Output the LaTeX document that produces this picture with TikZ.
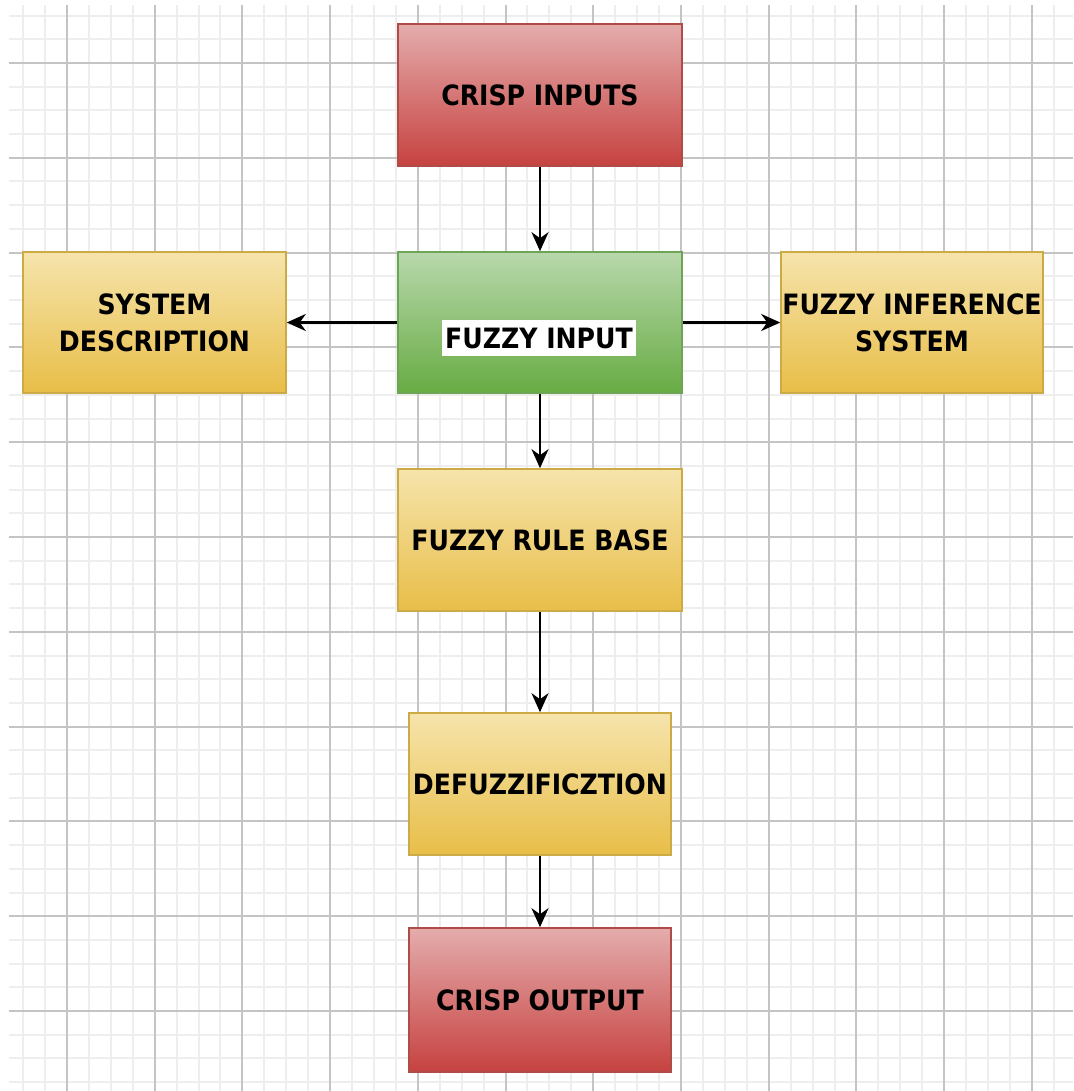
\documentclass[tikz,border=0pt]{standalone}
\usepackage{fontspec}
\newfontfamily\lblfont{DejaVu Sans Condensed}
\usetikzlibrary{arrows.meta}
\definecolor{redtop}{RGB}{228,172,172}
\definecolor{redbot}{RGB}{198,66,64}
\definecolor{redline}{RGB}{176,76,72}
\definecolor{grntop}{RGB}{184,216,172}
\definecolor{grnbot}{RGB}{104,172,68}
\definecolor{grnline}{RGB}{110,165,85}
\definecolor{yeltop}{RGB}{246,228,172}
\definecolor{yelbot}{RGB}{232,190,72}
\definecolor{yelline}{RGB}{204,170,70}
\definecolor{minorgrid}{RGB}{238,238,238}
\definecolor{majorgrid}{RGB}{196,196,196}
\begin{document}
\begin{tikzpicture}[x=1pt,y=-1pt,
  box/.style={draw, line width=1.6pt, inner sep=0pt, align=center,
    font=\lblfont\bfseries\fontsize{28}{37}\selectfont},
  redbox/.style={box, top color=redtop, bottom color=redbot, draw=redline},
  grnbox/.style={box, top color=grntop, bottom color=grnbot, draw=grnline},
  yelbox/.style={box, top color=yeltop, bottom color=yelbot, draw=yelline},
  hl/.style={fill=white, inner xsep=3pt, inner ysep=8pt,
    font=\lblfont\bfseries\fontsize{28}{37}\selectfont},
  arr/.style={draw=black, line width=2.6pt, -{Stealth[length=19pt,width=17pt,inset=6pt]}},
  minorline/.style={draw=minorgrid, line width=2pt},
  majorline/.style={draw=majorgrid, line width=2pt}]
\useasboundingbox (0,0) rectangle (1073,1091);
\fill[white] (0,0) rectangle (1073,1091);
% grid
\foreach \k in {0,...,47} {\draw[minorline] ({23.1+21.93*\k},5) -- ({23.1+21.93*\k},1091);}
\foreach \k in {0,...,45} {\draw[minorline] (9,{15.6+23.7*\k}) -- (1073,{15.6+23.7*\k});}
\foreach \k in {0,...,11} {\draw[majorline] ({67+87.7*\k},5) -- ({67+87.7*\k},1091);}
\foreach \k in {0,...,10} {\draw[majorline] (9,{63+94.8*\k}) -- (1073,{63+94.8*\k});}
% boxes
\node[redbox, minimum width=284pt, minimum height=142pt] (cin) at (540,95) {CRISP INPUTS};
\node[grnbox, minimum width=284pt, minimum height=141pt] (fin) at (540,322.5) {};
\node[hl] (fintxt) at (539,338) {FUZZY INPUT};
\node[yelbox, minimum width=263pt, minimum height=141pt] (sys) at (154.5,322.5) {SYSTEM\\DESCRIPTION};
\node[yelbox, minimum width=262pt, minimum height=141pt] (fis) at (912,322.5) {FUZZY INFERENCE\\SYSTEM};
\node[yelbox, minimum width=284pt, minimum height=142pt] (frb) at (540,540) {FUZZY RULE BASE};
\node[yelbox, minimum width=262pt, minimum height=142pt] (dfz) at (540,784) {DEFUZZIFICZTION};
\node[redbox, minimum width=262pt, minimum height=144pt] (cout) at (540,1000) {CRISP OUTPUT};
% connectors
\draw[arr] (cin) -- (fin);
\draw[arr] (fin) -- (sys);
\draw[arr] (fin) -- (fis);
\draw[arr] (fin) -- (frb);
\draw[arr] (frb) -- (dfz);
\draw[arr] (dfz) -- (cout);
\end{tikzpicture}
\end{document}
